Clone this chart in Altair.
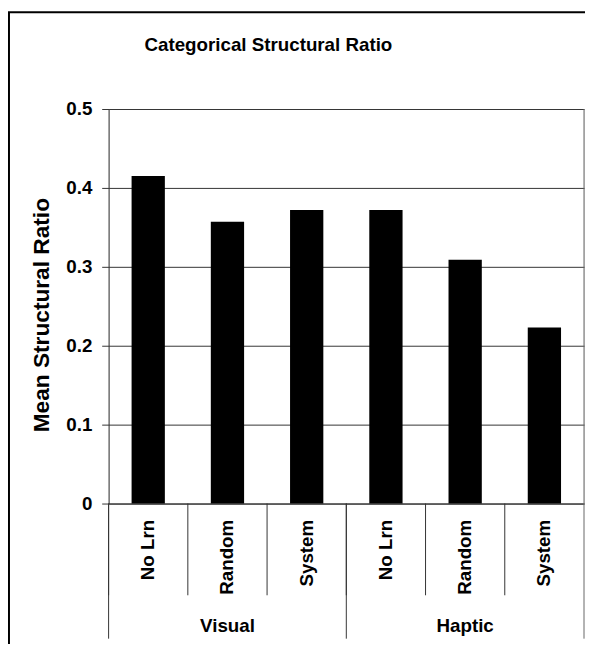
import altair as alt
import pandas as pd

groups = ["Visual", "Visual", "Visual", "Haptic", "Haptic", "Haptic"]
conditions = ["No Lrn", "Random", "System", "No Lrn", "Random", "System"]
values = [0.415, 0.357, 0.372, 0.372, 0.309, 0.223]
y_ticks = [0, 0.1, 0.2, 0.3, 0.4, 0.5]
chart_title = "Categorical Structural Ratio"
y_title = "Mean Structural Ratio"

cats = [f"{g}|{c}" for g, c in zip(groups, conditions)]
df = pd.DataFrame({"cat": cats, "group": groups, "cond": conditions, "value": values})
order = cats

FONT = "Liberation Sans"
LINE = "#333333"

xscale = alt.Scale(domain=order, paddingInner=0.58, paddingOuter=0.29)
stepscale = alt.Scale(domain=order, paddingInner=0, paddingOuter=0)

xenc = alt.X(
    "cat:N",
    sort=order,
    scale=xscale,
    axis=alt.Axis(
        title=None,
        labelExpr="split(datum.value, '|')[1]",
        labelAngle=270,
        labelAlign="right",
        labelBaseline="middle",
        labelFontSize=19,
        labelFontWeight="bold",
        labelFont=FONT,
        labelColor="black",
        labelPadding=16,
        ticks=False,
        domainColor=LINE,
        domainWidth=1,
        grid=False,
    ),
)

bars = alt.Chart(df).mark_bar(color="black").encode(
    x=xenc,
    y=alt.Y(
        "value:Q",
        scale=alt.Scale(domain=[0, 0.5], nice=False),
        axis=alt.Axis(
            title=None,
            values=y_ticks,
            format="~g",
            labelFontSize=19,
            labelFontWeight="bold",
            labelFont=FONT,
            labelColor="black",
            labelPadding=10,
            tickSize=7,
            tickColor=LINE,
            domainColor=LINE,
            gridColor=LINE,
            gridWidth=1,
            grid=True,
        ),
    ),
)

one = pd.DataFrame({"a": [0]})
border_left = alt.Chart(one).mark_rule(color="black", strokeWidth=2).encode(
    x=alt.value(-101), y=alt.value(-98), y2=alt.value(545)
)
border_top = alt.Chart(one).mark_rule(color="black", strokeWidth=2).encode(
    x=alt.value(-102), x2=alt.value(486), y=alt.value(-98)
)

cat_seps = alt.Chart(df).mark_rule(color=LINE, strokeWidth=1).encode(
    x=alt.X("cat:N", sort=order, scale=stepscale, bandPosition=0, axis=None),
    y=alt.value(400),
    y2=alt.value(493),
)

group_start = df[df["cond"] == "No Lrn"]
group_seps = alt.Chart(group_start).mark_rule(color=LINE, strokeWidth=1).encode(
    x=alt.X("cat:N", sort=order, scale=stepscale, bandPosition=0, axis=None),
    y=alt.value(400),
    y2=alt.value(537),
)
group_end = alt.Chart(df.tail(1)).mark_rule(color="#666666", strokeWidth=1).encode(
    x=alt.X("cat:N", sort=order, scale=stepscale, bandPosition=1, axis=None),
    y=alt.value(0),
    y2=alt.value(537),
)

group_mid = df[df["cond"] == "Random"]
group_labels = alt.Chart(group_mid).mark_text(
    font=FONT, fontSize=19, fontWeight="bold", color="black", baseline="middle", align="center"
).encode(
    x=alt.X("cat:N", sort=order, scale=stepscale, axis=None),
    y=alt.value(524),
    text="group:N",
)

title_txt = alt.Chart(pd.DataFrame({"t": [chart_title]})).mark_text(
    font=FONT, fontSize=19, fontWeight="bold", color="black", baseline="middle", align="center"
).encode(x=alt.value(162), y=alt.value(-65), text="t:N")

ytitle_txt = alt.Chart(pd.DataFrame({"t": [y_title]})).mark_text(
    font=FONT, fontSize=23, fontWeight="bold", color="black", baseline="middle",
    align="center", angle=270
).encode(x=alt.value(-67), y=alt.value(209), text="t:N")

marks = alt.layer(bars, cat_seps, group_seps, group_end, group_labels).resolve_scale(x="independent")

chart = alt.layer(
    border_left, border_top, marks, title_txt, ytitle_txt
).properties(
    width=482,
    height=400,
    autosize=alt.AutoSizeParams(type="none"),
    padding={"left": 102, "top": 98, "right": 1, "bottom": 138},
).configure_view(stroke=None).configure(background="white")

chart.save("out.html", embed_options={"renderer": "svg", "actions": False})
